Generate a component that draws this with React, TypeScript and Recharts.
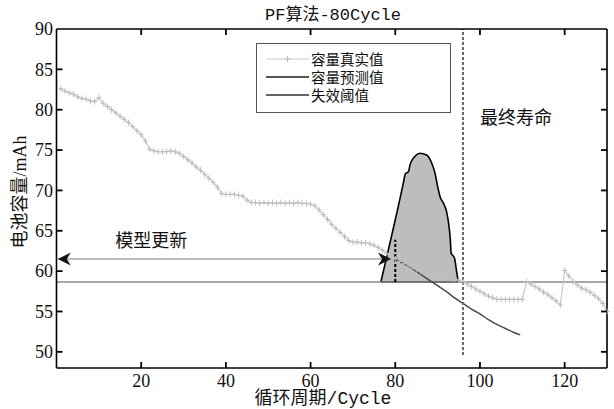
import React from 'react';
import { ComposedChart, Line, Area, XAxis, YAxis, ReferenceLine, ReferenceDot } from 'recharts';

const cycles = Array.from({ length: 130 }, (_, i) => i + 1);
const trueCapacity = [
  82.6, 82.3, 82.1, 81.9, 81.6, 81.4, 81.3, 81.1, 81.0, 81.5,
  80.8, 80.4, 80.0, 79.6, 79.2, 78.8, 78.4, 77.9, 77.4, 76.9,
  76.1, 75.1, 74.9, 74.8, 74.8, 74.8, 74.9, 74.8, 74.6, 74.2,
  73.8, 73.4, 72.9, 72.5, 72.0, 71.5, 71.0, 70.4, 69.6, 69.5,
  69.5, 69.5, 69.4, 69.3, 68.8, 68.5, 68.5, 68.4, 68.5, 68.4,
  68.5, 68.4, 68.5, 68.4, 68.5, 68.4, 68.5, 68.4, 68.4, 68.3,
  68.1, 67.6, 67.0, 66.4, 65.8, 65.3, 64.8, 64.3, 63.8, 63.6,
  63.6, 63.5, 63.5, 63.4, 63.2, 62.9, 62.6, 62.2, 61.8, 61.5,
  61.2, 60.9, 60.6, 60.4, 60.2, 60.0, 59.8, 59.7, 59.5, 59.4,
  59.3, 59.2, 59.1, 59.0, 58.9, 58.7, 58.4, 58.1, 57.8, 57.5,
  57.2, 56.9, 56.7, 56.5, 56.5, 56.5, 56.5, 56.5, 56.5, 56.5,
  58.7, 58.4, 58.1, 57.8, 57.4, 57.1, 56.7, 56.3, 55.8, 60.1,
  59.4, 58.7, 58.3, 57.9, 57.7, 57.4, 57.0, 56.6, 56.0, 55.0,
];

const predCycles = [80, 82, 84, 86, 88, 90, 92, 94, 96, 98, 100, 102, 104, 106, 108, 109.5];
const predCapacity = [61.5, 60.9, 60.3, 59.6, 58.9, 58.2, 57.5, 56.7, 56.0, 55.3, 54.7, 54.0, 53.4, 52.9, 52.4, 52.1];

const thresholdCycles = [0, 130];
const thresholdValue = 58.65;

const pdfCycles = [76.6, 79.1, 80.7, 81.9, 82.4, 83.1, 83.5, 84.6, 85.8, 87.4, 88.6, 89.4, 90.0, 90.6, 91.4, 92.1, 92.7, 93.0, 93.2, 93.5, 94.0, 94.5, 94.9];
const pdfTop = [58.65, 64.3, 68.0, 70.9, 72.1, 72.3, 73.2, 74.2, 74.6, 74.4, 73.4, 72.1, 70.5, 69.2, 68.4, 67.4, 65.5, 63.9, 62.2, 62.0, 61.6, 59.9, 58.65];

const arrowCycles = [0.3, 79];
const arrowValue = 61.5;

const xDomain = [0, 130];
const yDomain = [48, 90];
const xTicks = [20, 40, 60, 80, 100, 120];
const yTicks = [50, 55, 60, 65, 70, 75, 80, 85, 90];

const trueData = cycles.map((x, i) => ({ x, y: trueCapacity[i] }));
const predData = predCycles.map((x, i) => ({ x, y: predCapacity[i] }));
const thresholdData = thresholdCycles.map((x) => ({ x, y: thresholdValue }));
const pdfData = pdfCycles.map((x, i) => ({ x, r: [thresholdValue, pdfTop[i]] }));
const arrowData = arrowCycles.map((x) => ({ x, y: arrowValue }));

const bottomMarks = xTicks.map((x) => ({ x, y: yDomain[0] }));
const topMarks = xTicks.map((x) => ({ x, y: yDomain[1] }));
const leftMarks = yTicks.slice(0, -1).map((y) => ({ x: xDomain[0], y }));
const rightMarks = yTicks.slice(0, -1).map((y) => ({ x: xDomain[1], y }));

const CJK = "'Noto Sans CJK SC', sans-serif";
const SERIF = "'Liberation Serif', serif";
const MONO = "'Liberation Mono', 'Noto Sans CJK SC', monospace";

const BottomTick = (props: any) => {
  const { x, y, payload, index } = props;
  return (
    <text key={`bt${index}`} x={x} y={y} dy="0.75em" textAnchor="middle" fill="#111" fontSize={18} fontFamily={SERIF}>
      {payload.value}
    </text>
  );
};

const LeftTick = (props: any) => {
  const { x, y, payload, index } = props;
  return (
    <text key={`lt${index}`} x={x} y={y} dy="0.35em" textAnchor="end" fill="#111" fontSize={18} fontFamily={SERIF}>
      {payload.value}
    </text>
  );
};

const nubShape = (dx: number, dy: number) => (props: any) => {
  const { cx, cy } = props;
  if (cx == null || cy == null) return <g />;
  return <path d={`M${cx},${cy}L${cx + dx * 6},${cy + dy * 6}`} stroke="#000" strokeWidth={1.8} fill="none" />;
};

const PlusDot = (props: any) => {
  const { cx, cy, index } = props;
  if (cx == null || cy == null) return <g key={`p${index}`} />;
  return (
    <path
      key={`p${index}`}
      d={`M${cx - 2.5},${cy}H${cx + 2.5}M${cx},${cy - 3}V${cy + 3}`}
      stroke="#bcbcbc"
      strokeWidth={1}
      fill="none"
    />
  );
};

const ArrowDot = (props: any) => {
  const { cx, cy, index } = props;
  if (cx == null || cy == null) return <g key={`a${index}`} />;
  const d = index === 0 ? -1 : 1;
  const pts = [
    [cx, cy],
    [cx - d * 13, cy - 6.5],
    [cx - d * 9, cy],
    [cx - d * 13, cy + 6.5],
  ];
  return <polygon key={`a${index}`} points={pts.map((p) => p.join(',')).join(' ')} fill="#111" />;
};

const legendItems = [
  { label: '容量真实值', color: '#c8c8c8', plus: true },
  { label: '容量预测值', color: '#555', plus: false },
  { label: '失效阈值', color: '#666', plus: false },
];

const markSets = [
  { data: bottomMarks, dx: 0, dy: -1, tag: 'b' },
  { data: topMarks, dx: 0, dy: 1, tag: 't' },
  { data: leftMarks, dx: 1, dy: 0, tag: 'l' },
  { data: rightMarks, dx: -1, dy: 0, tag: 'r' },
];

export default function App() {
  return (
    <div style={{ position: 'absolute', left: 0, top: 0, width: 614, height: 409, background: '#fff' }}>
      <ComposedChart width={614} height={409} margin={{ top: 29, right: 7, bottom: 0, left: 0 }}>
        <XAxis
          xAxisId="b"
          type="number"
          dataKey="x"
          domain={xDomain}
          ticks={xTicks}
          height={41}
          tickSize={0}
          tickMargin={5}
          stroke="#000"
          axisLine={{ stroke: '#000', strokeWidth: 1.6 }}
          tickLine={false}
          tick={BottomTick}
        />
        <YAxis
          yAxisId="l"
          type="number"
          domain={yDomain}
          ticks={yTicks}
          width={56.5}
          tickSize={0}
          tickMargin={3.5}
          stroke="#000"
          axisLine={{ stroke: '#000', strokeWidth: 1.6 }}
          tickLine={false}
          tick={LeftTick}
        />
        <Area
          xAxisId="b"
          yAxisId="l"
          data={pdfData}
          dataKey="r"
          type="monotone"
          fill="#bdbdbd"
          fillOpacity={1}
          stroke="#000"
          strokeWidth={1.6}
          isAnimationActive={false}
          activeDot={false}
        />
        <Line
          xAxisId="b"
          yAxisId="l"
          data={thresholdData}
          dataKey="y"
          stroke="#8a8a8a"
          strokeWidth={1.5}
          dot={false}
          activeDot={false}
          isAnimationActive={false}
        />
        <Line
          xAxisId="b"
          yAxisId="l"
          data={trueData}
          dataKey="y"
          type="linear"
          stroke="#c8c8c8"
          strokeWidth={1.2}
          dot={PlusDot}
          activeDot={false}
          isAnimationActive={false}
        />
        <Line
          xAxisId="b"
          yAxisId="l"
          data={arrowData}
          dataKey="y"
          stroke="#a8a8a8"
          strokeWidth={1.5}
          dot={ArrowDot}
          activeDot={false}
          isAnimationActive={false}
        />
        <Line
          xAxisId="b"
          yAxisId="l"
          data={predData}
          dataKey="y"
          type="monotone"
          stroke="#4a4a4a"
          strokeWidth={1.5}
          dot={false}
          activeDot={false}
          isAnimationActive={false}
        />
        <ReferenceLine
          xAxisId="b"
          yAxisId="l"
          segment={[{ x: 80, y: thresholdValue }, { x: 80, y: 63.9 }]}
          stroke="#000"
          strokeWidth={2}
          strokeDasharray="3 2"
          ifOverflow="visible"
        />
        <ReferenceLine
          xAxisId="b"
          yAxisId="l"
          segment={[{ x: 96, y: 49.6 }, { x: 96, y: 90 }]}
          stroke="#666"
          strokeWidth={2}
          strokeDasharray="3 2"
          ifOverflow="visible"
        />
        <ReferenceLine
          xAxisId="b"
          yAxisId="l"
          segment={[{ x: xDomain[0], y: yDomain[1] }, { x: xDomain[1], y: yDomain[1] }]}
          stroke="#000"
          strokeWidth={1.6}
          ifOverflow="visible"
        />
        <ReferenceLine
          xAxisId="b"
          yAxisId="l"
          segment={[{ x: xDomain[1], y: yDomain[0] }, { x: xDomain[1], y: yDomain[1] }]}
          stroke="#000"
          strokeWidth={1.6}
          ifOverflow="visible"
        />
        {markSets.map((s) =>
          s.data.map((p) => (
            <ReferenceDot
              key={`m${s.tag}${p.x}_${p.y}`}
              xAxisId="b"
              yAxisId="l"
              x={p.x}
              y={p.y}
              r={1}
              fill="#000"
              stroke="#000"
              ifOverflow="visible"
              shape={nubShape(s.dx, s.dy)}
            />
          ))
        )}
        <ReferenceDot
          xAxisId="b"
          yAxisId="l"
          x={22.4}
          y={63.75}
          r={1}
          fill="none"
          stroke="none"
          ifOverflow="visible"
          label={{ value: '模型更新', position: 'center', fontSize: 18, fill: '#111', fontFamily: CJK }}
        />
        <ReferenceDot
          xAxisId="b"
          yAxisId="l"
          x={108.5}
          y={79}
          r={1}
          fill="none"
          stroke="none"
          ifOverflow="visible"
          label={{ value: '最终寿命', position: 'center', fontSize: 18, fill: '#111', fontFamily: CJK }}
        />
      </ComposedChart>

      <div style={{ position: 'absolute', left: 333, top: 15, transform: 'translate(-50%,-50%)', whiteSpace: 'nowrap', fontFamily: MONO, fontSize: 17, lineHeight: 1, color: '#111' }}>
        PF算法-80Cycle
      </div>
      <div style={{ position: 'absolute', left: 323, top: 399, transform: 'translate(-50%,-50%)', whiteSpace: 'nowrap', fontFamily: MONO, fontSize: 18, lineHeight: 1, color: '#111' }}>
        循环周期/Cycle
      </div>
      <div style={{ position: 'absolute', left: 19, top: 192, transform: 'translate(-50%,-50%) rotate(-90deg)', whiteSpace: 'nowrap', fontSize: 18, lineHeight: 1, color: '#111' }}>
        <span style={{ fontFamily: CJK }}>电池容量</span>
        <span style={{ fontFamily: SERIF }}>/mAh</span>
      </div>

      <div style={{ position: 'absolute', left: 256, top: 43, width: 195, height: 70, boxSizing: 'border-box', border: '1.5px solid #555', background: '#fff', paddingTop: 6 }}>
        {legendItems.map((it) => (
          <div key={it.label} style={{ display: 'flex', alignItems: 'center', height: 18 }}>
            <svg width={54} height={18} style={{ display: 'block' }}>
              <line x1={9} y1={9} x2={52} y2={9} stroke={it.color} strokeWidth={it.plus ? 1.2 : 2} />
              {it.plus && <path d="M28,9H33M30.5,6V12" stroke="#bcbcbc" strokeWidth={1} />}
            </svg>
            <span style={{ fontFamily: CJK, fontSize: 14.5, lineHeight: '18px', color: '#111', whiteSpace: 'nowrap' }}>{it.label}</span>
          </div>
        ))}
      </div>
    </div>
  );
}
